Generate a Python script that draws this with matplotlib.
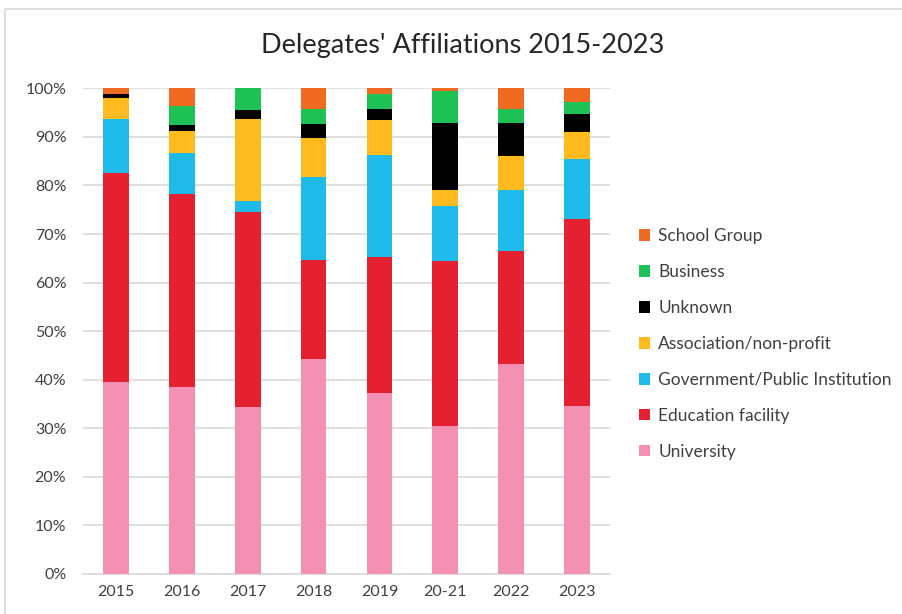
import matplotlib
matplotlib.use("Agg")
import matplotlib.pyplot as plt
from matplotlib.patches import Patch, Rectangle
import numpy as np

plt.rcParams['font.family'] = ['Lato', 'DejaVu Sans']

years = ["2015", "2016", "2017", "2018", "2019", "20-21", "2022", "2023"]

university = [39.5, 38.5, 34.3, 44.3, 37.2, 30.5, 43.3, 34.5]
education = [43.1, 39.8, 40.3, 20.4, 28.1, 34.0, 23.3, 38.6]
government = [11.1, 8.4, 2.1, 17.0, 20.9, 11.3, 12.5, 12.4]
association = [4.3, 4.5, 16.9, 8.1, 7.2, 3.3, 6.9, 5.5]
unknown = [0.9, 1.3, 2.0, 2.9, 2.4, 13.8, 6.9, 3.7]
business = [0.0, 3.8, 4.4, 3.1, 3.1, 6.6, 2.9, 2.6]
school_group = [1.1, 3.7, 0.0, 4.2, 1.1, 0.5, 4.2, 2.7]

series = [
    ("University", university, "#F390B4"),
    ("Education facility", education, "#E52030"),
    ("Government/Public Institution", government, "#1EBBEA"),
    ("Association/non-profit", association, "#FFBB1E"),
    ("Unknown", unknown, "#000000"),
    ("Business", business, "#1EC153"),
    ("School Group", school_group, "#F06A22"),
]

fig = plt.figure(figsize=(9.03, 6.14), dpi=100)
ax = fig.add_axes([0.0919, 0.0656, 0.5836, 0.7904])

# chart frame
fig.patches.append(Rectangle((0.006, -0.01), 1.0, 0.995, transform=fig.transFigure,
                             fill=False, edgecolor="#D9D9D9", linewidth=1.2))

x = np.arange(len(years))
bottom = np.zeros(len(years))
for name, vals, color in series:
    v = np.array(vals, dtype=float)
    ax.bar(x, v, bottom=bottom, width=0.39, color=color, edgecolor="none", zorder=3)
    bottom += v

ax.set_xlim(-0.5, len(years) - 0.5)
ax.set_ylim(0, 100)
ax.set_yticks(np.arange(0, 101, 10))
ax.set_yticklabels([f"{t}%" for t in range(0, 101, 10)])
ax.set_xticks(x)
ax.set_xticklabels(years)
ax.tick_params(axis="both", length=0, labelsize=11.5, colors="#404040")
ax.tick_params(axis="y", pad=12)
ax.tick_params(axis="x", pad=8)
ax.grid(axis="y", color="#D9D9D9", linewidth=1.2, zorder=0)
for s in ["top", "right", "left"]:
    ax.spines[s].set_visible(False)
ax.spines["bottom"].set_color("#D9D9D9")
ax.spines["bottom"].set_linewidth(1.2)

fig.text(0.512, 0.926, "Delegates' Affiliations 2015-2023", ha="center", va="center",
         fontsize=19.5, color="#262626")

handles = [Patch(facecolor=c, edgecolor="none", label=n) for n, _, c in reversed(series)]
leg = fig.legend(handles=handles, loc="center left", bbox_to_anchor=(0.700, 0.440),
                 frameon=False, fontsize=12.5, handlelength=0.65, handleheight=0.65,
                 handletextpad=0.45, labelspacing=1.15, borderaxespad=0)
for t in leg.get_texts():
    t.set_color("#404040")

fig.savefig("out.png", dpi=100)
